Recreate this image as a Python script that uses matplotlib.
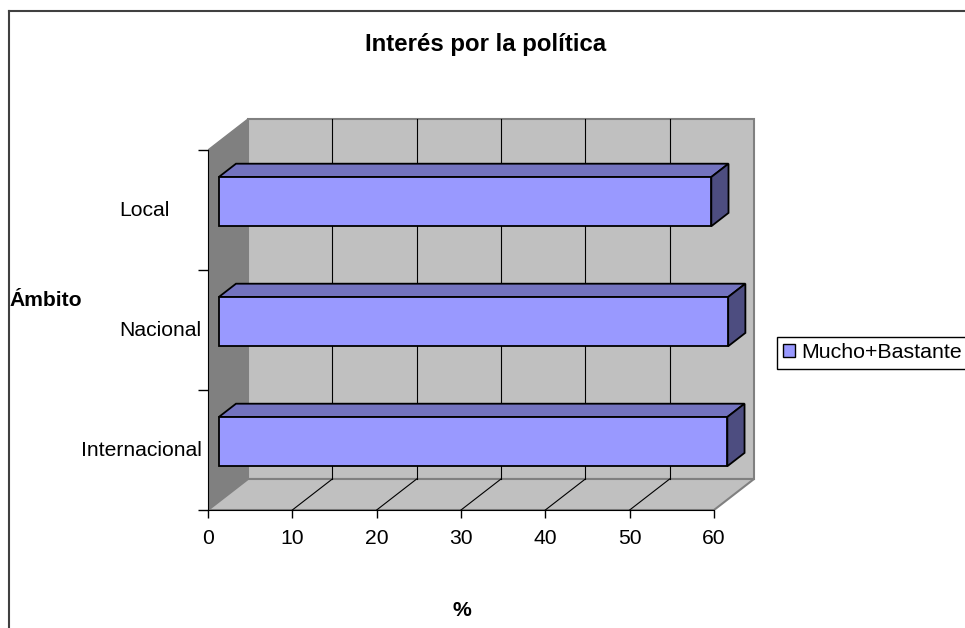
import matplotlib.pyplot as plt
import numpy as np
from matplotlib.patches import Polygon, Patch
from matplotlib.lines import Line2D

# data, bottom to top
categories = ["Internacional", "Nacional", "Local"]
values = [60.3, 60.4, 58.4]
x_ticks = [0, 10, 20, 30, 40, 50, 60]
series_name = "Mucho+Bastante"
title = "Interés por la política"
x_label = "%"
y_label = "Ámbito"

plt.rcParams['font.family'] = ['Liberation Sans', 'DejaVu Sans']
fs = 15.2

W, H = 965, 628
fig = plt.figure(figsize=(W / 100, H / 100), dpi=100)

# front plane of the 3D box, in pixels
x0_px, x1_px = 208, 714
yb_px, yt_px = 510, 150
ax_right_px, ax_top_px = 775, 110
n = len(categories)
xmax = x_ticks[-1]
px_per_x = (x1_px - x0_px) / xmax
px_per_cat = (yb_px - yt_px) / n

ax = fig.add_axes([x0_px / W, (H - yb_px) / H,
                   (ax_right_px - x0_px) / W, (yb_px - ax_top_px) / H])
ax.set_xlim(0, (ax_right_px - x0_px) / px_per_x)
ax.set_ylim(0, (yb_px - ax_top_px) / px_per_cat)
ax.patch.set_visible(False)

# depth offset of the box
DX = 40 / px_per_x
DY = 31 / px_per_cat

wall_color = '#c0c0c0'
side_color = '#808080'
edge_color = '#808080'

# walls and floor
ax.add_patch(Polygon([(0, 0), (DX, DY), (DX, n + DY), (0, n)],
                     fc=side_color, ec=edge_color, lw=1, zorder=1))
ax.add_patch(Polygon([(DX, DY), (xmax + DX, DY), (xmax + DX, n + DY), (DX, n + DY)],
                     fc=wall_color, ec=edge_color, lw=1.5, zorder=1))
ax.add_patch(Polygon([(0, 0), (xmax, 0), (xmax + DX, DY), (DX, DY)],
                     fc=wall_color, ec=edge_color, lw=1.5, zorder=1))
for t in x_ticks[1:-1]:
    ax.plot([t + DX, t + DX], [DY, n + DY], color='black', lw=0.8, zorder=2)
    ax.plot([t, t + DX], [0, DY], color='black', lw=0.8, zorder=2)

# 3D bars
d0, d1 = 0.27, 0.70
bh = 0.41
centers = np.arange(n) + 0.5
front = '#9999ff'
top = '#7373bf'
right = '#4d4d80'
ax.barh(centers + d0 * DY, values, height=bh, left=d0 * DX, color=front,
        edgecolor='black', linewidth=1.3, zorder=5)
for c, v in zip(centers, values):
    yl, yh = c - bh / 2, c + bh / 2
    ax.add_patch(Polygon([(d0 * DX, yh + d0 * DY), (v + d0 * DX, yh + d0 * DY),
                          (v + d1 * DX, yh + d1 * DY), (d1 * DX, yh + d1 * DY)],
                         fc=top, ec='black', lw=1.3, zorder=4))
    ax.add_patch(Polygon([(v + d0 * DX, yl + d0 * DY), (v + d1 * DX, yl + d1 * DY),
                          (v + d1 * DX, yh + d1 * DY), (v + d0 * DX, yh + d0 * DY)],
                         fc=right, ec='black', lw=1.3, zorder=4))

# axes
for s in ['top', 'right']:
    ax.spines[s].set_visible(False)
ax.spines['bottom'].set_bounds(0, xmax)
ax.spines['left'].set_bounds(0, n)
ax.set_xticks(x_ticks)
ax.set_yticks(np.arange(n + 1))
ax.set_yticklabels([])
ax.tick_params(axis='x', length=6, width=1, pad=8, labelsize=fs)
ax.tick_params(axis='y', length=7, width=1)

for c, name in zip(centers, categories):
    if len(name) > 10:
        ax.annotate(name, xy=(0, c), xytext=(-6.5, 0), textcoords='offset pixels',
                    ha='right', va='center', fontsize=fs)
    else:
        ax.annotate(name, xy=(0, c), xytext=(-89, 0), textcoords='offset pixels',
                    ha='left', va='center', fontsize=fs)

fig.text(486 / W, 1 - 44 / H, title, ha='center', va='center',
         fontsize=17.3, fontweight='bold')
fig.text(10 / W, 1 - 300 / H, y_label, ha='left', va='center',
         fontsize=fs, fontweight='bold')
fig.text(462 / W, 1 - 610 / H, x_label, ha='center', va='center',
         fontsize=fs, fontweight='bold')

# chart area border
fig.add_artist(Line2D([9 / W, 9 / W], [0, 1 - 11 / H], transform=fig.transFigure,
                      color='#404040', lw=1.5))
fig.add_artist(Line2D([9 / W, 1], [1 - 11 / H, 1 - 11 / H], transform=fig.transFigure,
                      color='#404040', lw=1.5))

leg = fig.legend(handles=[Patch(fc=front, ec='black', lw=1)], labels=[series_name],
                 loc='center left', bbox_to_anchor=(777 / W, 1 - 353 / H),
                 fontsize=15.4, frameon=True, fancybox=False, edgecolor='black',
                 framealpha=1, borderaxespad=0, borderpad=0.3,
                 handlelength=0.55, handleheight=0.55, handletextpad=0.3)
leg.get_frame().set_linewidth(1)

fig.savefig('out.png', dpi=100)
